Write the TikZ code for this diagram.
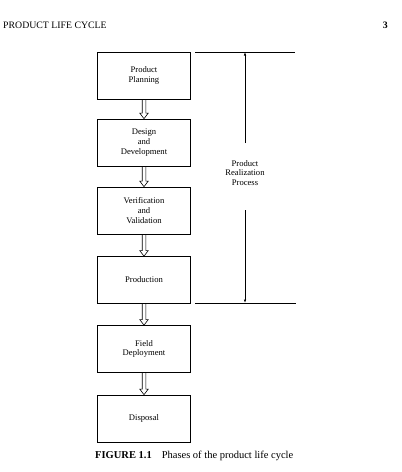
\documentclass[tikz,border=0pt]{standalone}
\usepackage{fontspec}
\setmainfont{Liberation Serif}
\usetikzlibrary{calc,arrows.meta}
\begin{document}
\begin{tikzpicture}[x=1pt,y=1pt,
  phase/.style={draw, line width=0.7pt, minimum width=93pt, minimum height=47pt, inner sep=0pt,
    align=center, font=\fontsize{8.6}{9.7}\selectfont},
  hollow/.style={line width=0.6pt, to path={let \p1=(\tikztostart), \p2=(\tikztotarget) in
    (\x1-1.8pt,\y1) -- (\x1-1.8pt,\y2+5.5pt) -- (\x1-4.2pt,\y2+5.5pt) -- (\x1,\y2)
    -- (\x1+4.2pt,\y2+5.5pt) -- (\x1+1.8pt,\y2+5.5pt) -- (\x1+1.8pt,\y1)}},
  rule/.style={line width=0.7pt},
  span/.style={line width=0.7pt, -{Latex[length=3.5pt,width=2.5pt]}},
  small/.style={font=\fontsize{8.6}{9.8}\selectfont, align=center, inner sep=0pt}
]
\useasboundingbox (0,0) rectangle (402,-472);
\node[anchor=base west, inner sep=0pt, font=\fontsize{9.8}{12}\selectfont] (hdr) at (3,-28) {PRODUCT LIFE CYCLE};
\node[anchor=base east, inner sep=0pt, font=\fontsize{9.8}{12}\selectfont\bfseries] (pg) at (388,-28) {3};

\node[phase] (b1) at (144,-75.5) {Product\\Planning};
\node[phase] (b2) at (144,-142.5) {Design\\and\\Development};
\node[phase] (b3) at (144,-210.5) {Verification\\and\\Validation};
\node[phase] (b4) at (144,-280) {Production};
\node[phase] (b5) at (144,-349) {Field\\Deployment};
\node[phase] (b6) at (144,-418.5) {Disposal};

\draw[hollow] (b1.south) to (b2.north);
\draw[hollow] (b2.south) to (b3.north);
\draw[hollow] (b3.south) to (b4.north);
\draw[hollow] (b4.south) to (b5.north);
\draw[hollow] (b5.south) to (b6.north);

\coordinate (tl) at (195,-52);
\coordinate (tr) at (295,-52);
\coordinate (bl) at (195,-303);
\coordinate (br) at (296,-303);
\coordinate (top) at (245,-52);
\coordinate (bot) at (245,-303);
\coordinate (upstart) at (245,-143);
\coordinate (downstart) at (245,-210);
\draw[rule] (tl) -- (tr);
\draw[rule] (bl) -- (br);
\node[small] (lbl) at (245,-173) {Product\\Realization\\Process};
\draw[span] (upstart) -- (top);
\draw[span] (downstart) -- (bot);

\node[anchor=base west, inner sep=0pt, font=\fontsize{10.5}{12}\selectfont] (cap) at (95,-458)
  {\textbf{FIGURE 1.1}\hspace{10pt}Phases of the product life cycle};
\end{tikzpicture}
\end{document}
